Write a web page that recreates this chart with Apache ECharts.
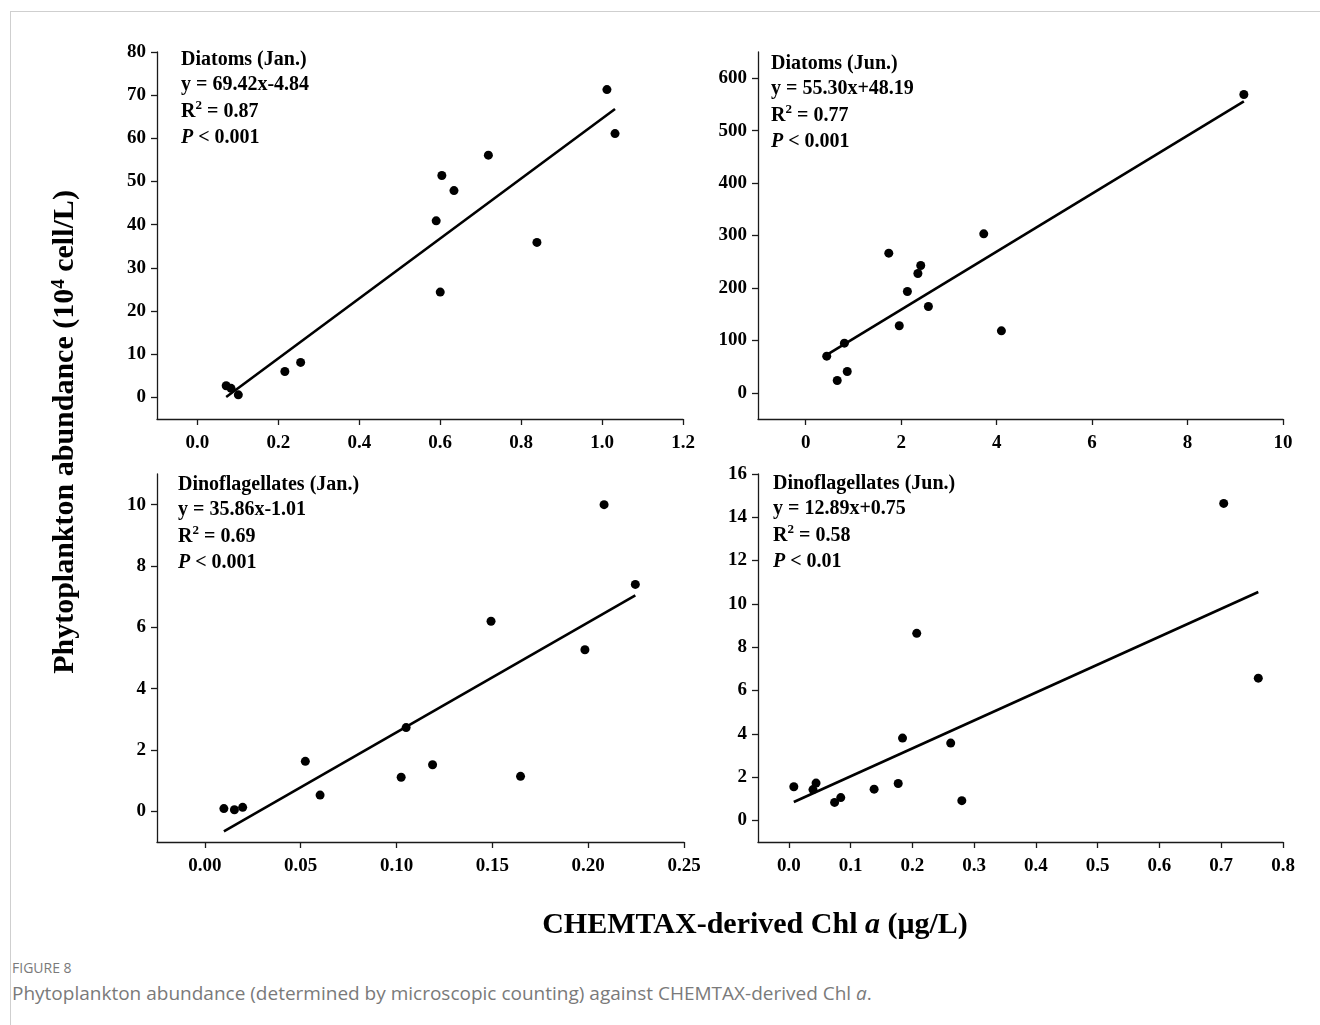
<!DOCTYPE html>
<html>
<head>
<meta charset="utf-8">
<script src="https://cdn.jsdelivr.net/npm/echarts@6/dist/echarts.min.js"></script>
<style>
  html, body { margin: 0; padding: 0; background: #fff; }
  #wrap { position: relative; width: 1320px; height: 1025px; overflow: hidden; }
  #frame { position: absolute; left: 10px; top: 11px; width: 1320px; height: 1100px;
           border-top: 1px solid #cfcfcf; border-left: 1px solid #cfcfcf; }
  #chart { position: absolute; left: 0; top: 0; width: 1320px; height: 940px; }
  .cap1 { position: absolute; left: 12px; top: 958px; font-family: 'Open Sans', sans-serif;
          font-size: 14px; color: #7a7a7a; }
  .cap2 { position: absolute; left: 12px; top: 980px; font-family: 'Open Sans', sans-serif;
          font-size: 19px; color: #7a7a7a; }
</style>
</head>
<body>
<div id="wrap">
  <div id="frame"></div>
  <div id="chart"></div>
  <div class="cap1">FIGURE 8</div>
  <div class="cap2">Phytoplankton abundance (determined by microscopic counting) against CHEMTAX-derived Chl <i>a</i>.</div>
</div>
<script>
// values
let diatJanX = [0.071, 0.083, 0.101, 0.216, 0.255, 0.590, 0.604, 0.634, 0.600, 0.719, 0.839, 1.012, 1.032];
let diatJanY = [2.7, 2.1, 0.6, 6.0, 8.1, 40.9, 51.4, 47.9, 24.4, 56.1, 35.9, 71.3, 61.1];
let diatJanFit = [[0.071, 0.09], [1.032, 66.80]];

let diatJunX = [0.44, 0.66, 0.81, 0.87, 1.74, 1.96, 2.13, 2.35, 2.41, 2.57, 3.73, 4.10, 9.18];
let diatJunY = [69.9, 23.5, 94.7, 40.7, 266.3, 127.8, 193.2, 227.5, 242.8, 164.6, 303.2, 118.2, 568.9];
let diatJunFit = [[0.44, 72.5], [9.18, 555.8]];

let dinoJanX = [0.0099, 0.0154, 0.0197, 0.0524, 0.0601, 0.1024, 0.1050, 0.1188, 0.1493, 0.1647, 0.1983, 0.2083, 0.2246];
let dinoJanY = [0.09, 0.05, 0.13, 1.63, 0.53, 1.11, 2.73, 1.52, 6.20, 1.14, 5.27, 10.0, 7.40];
let dinoJanFit = [[0.0099, -0.65], [0.2246, 7.04]];

let dinoJunX = [0.008, 0.039, 0.044, 0.074, 0.084, 0.138, 0.177, 0.184, 0.207, 0.262, 0.280, 0.704, 0.760];
let dinoJunY = [1.55, 1.42, 1.72, 0.83, 1.05, 1.44, 1.70, 3.80, 8.64, 3.57, 0.91, 14.64, 6.57];
let dinoJunFit = [[0.008, 0.85], [0.760, 10.55]];

// tick labels
let xTicks1 = [0, 0.2, 0.4, 0.6, 0.8, 1.0, 1.2];
let yTicks1 = [0, 10, 20, 30, 40, 50, 60, 70, 80];
let xTicks2 = [0, 2, 4, 6, 8, 10];
let yTicks2 = [0, 100, 200, 300, 400, 500, 600];
let xTicks3 = [0, 0.05, 0.10, 0.15, 0.20, 0.25];
let yTicks3 = [0, 2, 4, 6, 8, 10];
let xTicks4 = [0, 0.1, 0.2, 0.3, 0.4, 0.5, 0.6, 0.7, 0.8];
let yTicks4 = [0, 2, 4, 6, 8, 10, 12, 14, 16];

let panelTitles = ['Diatoms (Jan.)', 'Diatoms (Jun.)', 'Dinoflagellates (Jan.)', 'Dinoflagellates (Jun.)'];
let panelEqs = ['y = 69.42x-4.84', 'y = 55.30x+48.19', 'y = 35.86x-1.01', 'y = 12.89x+0.75'];
let panelR2 = ['0.87', '0.77', '0.69', '0.58'];
let panelP = ['< 0.001', '< 0.001', '< 0.001', '< 0.01'];

const SERIF = "'Liberation Serif', 'Times New Roman', serif";
const TXT = 'bold 20px ' + SERIF;

function pairs(xs, ys) {
  return xs.map((x, i) => [x, ys[i]]);
}

function xAxisOf(idx, min, max, ticks, digits) {
  return {
    type: 'value', gridIndex: idx, min: min, max: max,
    splitLine: { show: false },
    axisLine: { onZero: false, lineStyle: { color: '#1a1a1a', width: 1.3 } },
    axisTick: { customValues: ticks, length: 6, lineStyle: { color: '#1a1a1a', width: 1.3 } },
    axisLabel: {
      customValues: ticks, margin: 15,
      fontFamily: SERIF, fontWeight: 'bold', fontSize: 19, color: '#000',
      formatter: v => v.toFixed(digits)
    }
  };
}

function yAxisOf(idx, min, max, ticks) {
  return {
    type: 'value', gridIndex: idx, min: min, max: max,
    splitLine: { show: false },
    axisLine: { onZero: false, lineStyle: { color: '#1a1a1a', width: 1.3 } },
    axisTick: { customValues: ticks, length: 6, lineStyle: { color: '#1a1a1a', width: 1.3 } },
    axisLabel: {
      customValues: ticks, margin: 11,
      fontFamily: SERIF, fontWeight: 'bold', fontSize: 19, color: '#000',
      formatter: v => String(v)
    }
  };
}

function scatterOf(idx, data) {
  return {
    type: 'scatter', xAxisIndex: idx, yAxisIndex: idx, data: data,
    symbolSize: 9, itemStyle: { color: '#000', opacity: 1 }, silent: true
  };
}

function fitOf(idx, data) {
  return {
    type: 'line', xAxisIndex: idx, yAxisIndex: idx, data: data,
    symbol: 'none', lineStyle: { color: '#000', width: 2.6 }, silent: true
  };
}

function txt(x, y, s, font, extra) {
  return Object.assign({
    type: 'text', x: x, y: y,
    style: { text: s, fill: '#000', font: font, verticalAlign: 'middle' }
  }, extra || {});
}

// text block position for each panel: [left, first line centre]
let textPos = [[181, 60], [771, 64], [178, 485], [773, 484]];
let lineOff = [0, 25, 52, 78];

let graphics = [];
panelTitles.forEach((t, k) => {
  let x = textPos[k][0];
  let y0 = textPos[k][1];
  graphics.push(txt(x, y0 + lineOff[0], t, TXT));
  graphics.push(txt(x, y0 + lineOff[1], panelEqs[k], TXT));
  // R squared, superscript drawn as its own text
  graphics.push(txt(x, y0 + lineOff[2], 'R', TXT));
  graphics.push(txt(x + 14.5, y0 + lineOff[2] - 6, '2', 'bold 13px ' + SERIF));
  graphics.push(txt(x + 26, y0 + lineOff[2], '= ' + panelR2[k], TXT));
  graphics.push({
    type: 'text', x: x, y: y0 + lineOff[3],
    style: {
      text: '{i|P} ' + panelP[k], fill: '#000', font: TXT, verticalAlign: 'middle',
      rich: { i: { fontFamily: SERIF, fontWeight: 'bold', fontStyle: 'italic', fontSize: 20 } }
    }
  });
});

graphics.push({
  type: 'text', x: 755, y: 925,
  style: {
    text: 'CHEMTAX-derived Chl {ai|a} (μg/L)',
    fill: '#000', font: 'bold 30px ' + SERIF, align: 'center', verticalAlign: 'middle',
    rich: {
      ai: { fontFamily: SERIF, fontWeight: 'bold', fontStyle: 'italic', fontSize: 30 }
    }
  }
});

graphics.push({
  type: 'text', x: 65, y: 432, rotation: Math.PI / 2,
  style: {
    text: 'Phytoplankton abundance (10{s4|4} cell/L)',
    fill: '#000', font: 'bold 30px ' + SERIF, align: 'center', verticalAlign: 'middle',
    rich: {
      s4: { fontFamily: SERIF, fontWeight: 'bold', fontSize: 19, verticalAlign: 'top' }
    }
  }
});

let myChart = echarts.init(document.getElementById('chart'), null, { renderer: 'canvas' });

let option = {
  animation: false,
  backgroundColor: 'transparent',
  grid: [
    { left: 157, top: 52, width: 526, height: 367 },
    { left: 758, top: 52, width: 525, height: 367 },
    { left: 157, top: 474, width: 527, height: 368 },
    { left: 758, top: 474, width: 525, height: 368 }
  ],
  xAxis: [
    xAxisOf(0, -0.1, 1.2, xTicks1, 1),
    xAxisOf(1, -1, 10, xTicks2, 0),
    xAxisOf(2, -0.025, 0.25, xTicks3, 2),
    xAxisOf(3, -0.05, 0.8, xTicks4, 1)
  ],
  yAxis: [
    yAxisOf(0, -5, 80, yTicks1),
    yAxisOf(1, -50, 650, yTicks2),
    yAxisOf(2, -1, 11, yTicks3),
    yAxisOf(3, -1, 16, yTicks4)
  ],
  series: [
    fitOf(0, diatJanFit),
    scatterOf(0, pairs(diatJanX, diatJanY)),
    fitOf(1, diatJunFit),
    scatterOf(1, pairs(diatJunX, diatJunY)),
    fitOf(2, dinoJanFit),
    scatterOf(2, pairs(dinoJanX, dinoJanY)),
    fitOf(3, dinoJunFit),
    scatterOf(3, pairs(dinoJunX, dinoJunY))
  ],
  graphic: graphics
};

myChart.setOption(option);
</script>
</body>
</html>
